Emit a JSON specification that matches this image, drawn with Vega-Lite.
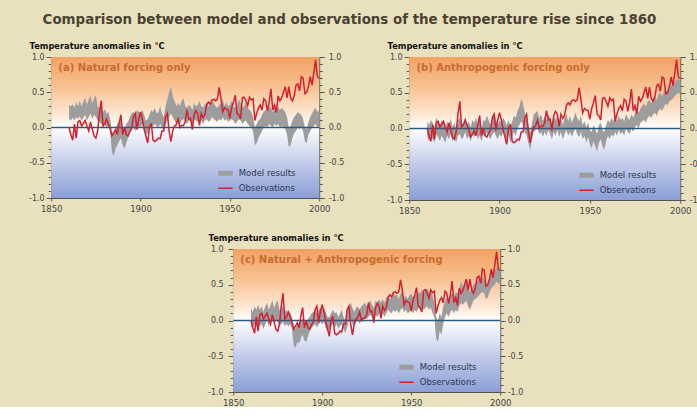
{
  "$schema": "https://vega.github.io/schema/vega-lite/v6.json",
  "background": "#e9e1be",
  "padding": {"left": 28, "top": 13, "right": 0, "bottom": 0},
  "title": {"text": "Comparison between model and observations of the temperature rise since 1860", "font": "DejaVu Sans", "fontSize": 13.4, "fontWeight": "bold", "color": "#4a4232", "anchor": "start", "dx": 14, "offset": 15},
  "config": {
    "view": {"stroke": null},
    "axis": {"labelFont": "DejaVu Sans", "labelFontSize": 8, "labelColor": "#444444", "domainColor": "#555555", "tickColor": "#555555", "grid": false, "domainWidth": 1, "tickWidth": 1}
  },
  "datasets": {
    "temps": [
      {"year":1860,"t":0.00,"alo":0.12,"ahi":0.32,"blo":-0.12,"bhi":0.10,"clo":-0.08,"chi":0.18},
      {"year":1861,"t":-0.10,"alo":0.10,"ahi":0.30,"blo":-0.18,"bhi":0.05,"clo":-0.12,"chi":0.12},
      {"year":1862,"t":-0.18,"alo":0.14,"ahi":0.33,"blo":-0.10,"bhi":0.12,"clo":-0.05,"chi":0.20},
      {"year":1863,"t":0.05,"alo":0.10,"ahi":0.28,"blo":-0.15,"bhi":0.08,"clo":-0.10,"chi":0.15},
      {"year":1864,"t":-0.15,"alo":0.15,"ahi":0.36,"blo":-0.20,"bhi":0.02,"clo":-0.02,"chi":0.22},
      {"year":1865,"t":0.08,"alo":0.12,"ahi":0.30,"blo":-0.08,"bhi":0.15,"clo":-0.08,"chi":0.15},
      {"year":1866,"t":0.10,"alo":0.16,"ahi":0.38,"blo":-0.12,"bhi":0.10,"clo":-0.05,"chi":0.20},
      {"year":1867,"t":0.02,"alo":0.10,"ahi":0.30,"blo":-0.18,"bhi":0.05,"clo":-0.12,"chi":0.12},
      {"year":1868,"t":0.06,"alo":0.14,"ahi":0.36,"blo":-0.10,"bhi":0.12,"clo":-0.05,"chi":0.20},
      {"year":1869,"t":0.10,"alo":0.18,"ahi":0.42,"blo":-0.15,"bhi":0.08,"clo":0.00,"chi":0.25},
      {"year":1870,"t":0.02,"alo":0.10,"ahi":0.32,"blo":-0.20,"bhi":0.00,"clo":-0.08,"chi":0.15},
      {"year":1871,"t":-0.05,"alo":0.15,"ahi":0.40,"blo":-0.10,"bhi":0.10,"clo":-0.03,"chi":0.22},
      {"year":1872,"t":0.08,"alo":0.20,"ahi":0.45,"blo":-0.15,"bhi":0.05,"clo":0.02,"chi":0.28},
      {"year":1873,"t":-0.02,"alo":0.12,"ahi":0.34,"blo":-0.08,"bhi":0.14,"clo":-0.05,"chi":0.18},
      {"year":1874,"t":-0.12,"alo":0.18,"ahi":0.42,"blo":-0.18,"bhi":0.02,"clo":0.00,"chi":0.25},
      {"year":1875,"t":-0.15,"alo":0.15,"ahi":0.46,"blo":-0.12,"bhi":0.08,"clo":-0.02,"chi":0.28},
      {"year":1876,"t":-0.05,"alo":0.10,"ahi":0.30,"blo":-0.20,"bhi":0.00,"clo":-0.08,"chi":0.15},
      {"year":1877,"t":0.20,"alo":0.08,"ahi":0.28,"blo":-0.10,"bhi":0.12,"clo":-0.05,"chi":0.18},
      {"year":1878,"t":0.38,"alo":0.05,"ahi":0.25,"blo":-0.08,"bhi":0.15,"clo":-0.02,"chi":0.20},
      {"year":1879,"t":0.02,"alo":0.02,"ahi":0.22,"blo":-0.15,"bhi":0.05,"clo":-0.08,"chi":0.12},
      {"year":1880,"t":0.05,"alo":0.04,"ahi":0.26,"blo":-0.12,"bhi":0.08,"clo":-0.05,"chi":0.15},
      {"year":1881,"t":0.12,"alo":0.00,"ahi":0.20,"blo":-0.05,"bhi":0.15,"clo":-0.08,"chi":0.10},
      {"year":1882,"t":0.05,"alo":0.03,"ahi":0.22,"blo":-0.15,"bhi":0.05,"clo":-0.05,"chi":0.12},
      {"year":1883,"t":-0.02,"alo":-0.05,"ahi":0.12,"blo":-0.10,"bhi":0.10,"clo":-0.12,"chi":0.05},
      {"year":1884,"t":-0.12,"alo":-0.35,"ahi":-0.05,"blo":-0.18,"bhi":0.02,"clo":-0.35,"chi":-0.08},
      {"year":1885,"t":-0.08,"alo":-0.40,"ahi":-0.10,"blo":-0.08,"bhi":0.12,"clo":-0.38,"chi":-0.12},
      {"year":1886,"t":-0.03,"alo":-0.30,"ahi":0.00,"blo":-0.12,"bhi":0.08,"clo":-0.30,"chi":-0.05},
      {"year":1887,"t":-0.10,"alo":-0.25,"ahi":0.05,"blo":-0.05,"bhi":0.15,"clo":-0.32,"chi":-0.05},
      {"year":1888,"t":0.06,"alo":-0.20,"ahi":0.08,"blo":-0.15,"bhi":0.05,"clo":-0.25,"chi":0.00},
      {"year":1889,"t":0.18,"alo":-0.15,"ahi":0.10,"blo":-0.10,"bhi":0.12,"clo":-0.20,"chi":0.02},
      {"year":1890,"t":-0.10,"alo":-0.25,"ahi":0.02,"blo":-0.18,"bhi":0.00,"clo":-0.28,"chi":-0.02},
      {"year":1891,"t":0.00,"alo":-0.30,"ahi":-0.02,"blo":-0.08,"bhi":0.12,"clo":-0.30,"chi":-0.05},
      {"year":1892,"t":-0.10,"alo":-0.22,"ahi":0.05,"blo":-0.12,"bhi":0.10,"clo":-0.22,"chi":0.02},
      {"year":1893,"t":-0.12,"alo":-0.15,"ahi":0.08,"blo":-0.05,"bhi":0.18,"clo":-0.15,"chi":0.05},
      {"year":1894,"t":-0.06,"alo":-0.05,"ahi":0.15,"blo":-0.10,"bhi":0.12,"clo":-0.10,"chi":0.10},
      {"year":1895,"t":-0.02,"alo":-0.02,"ahi":0.20,"blo":-0.15,"bhi":0.05,"clo":-0.08,"chi":0.12},
      {"year":1896,"t":0.15,"alo":0.00,"ahi":0.22,"blo":-0.08,"bhi":0.15,"clo":-0.05,"chi":0.15},
      {"year":1897,"t":0.20,"alo":-0.05,"ahi":0.18,"blo":-0.05,"bhi":0.22,"clo":-0.10,"chi":0.10},
      {"year":1898,"t":-0.03,"alo":0.00,"ahi":0.25,"blo":-0.10,"bhi":0.12,"clo":-0.05,"chi":0.15},
      {"year":1899,"t":0.12,"alo":0.02,"ahi":0.22,"blo":-0.15,"bhi":0.05,"clo":-0.02,"chi":0.18},
      {"year":1900,"t":0.22,"alo":0.00,"ahi":0.20,"blo":-0.08,"bhi":0.12,"clo":-0.05,"chi":0.15},
      {"year":1901,"t":0.12,"alo":0.05,"ahi":0.25,"blo":-0.12,"bhi":0.08,"clo":-0.02,"chi":0.18},
      {"year":1902,"t":-0.02,"alo":-0.05,"ahi":0.18,"blo":-0.05,"bhi":0.15,"clo":-0.10,"chi":0.12},
      {"year":1903,"t":-0.12,"alo":-0.10,"ahi":0.10,"blo":-0.10,"bhi":0.10,"clo":-0.15,"chi":0.05},
      {"year":1904,"t":-0.22,"alo":-0.08,"ahi":0.12,"blo":-0.15,"bhi":0.05,"clo":-0.12,"chi":0.05},
      {"year":1905,"t":0.00,"alo":-0.02,"ahi":0.18,"blo":-0.08,"bhi":0.12,"clo":-0.08,"chi":0.10},
      {"year":1906,"t":0.06,"alo":0.00,"ahi":0.25,"blo":-0.20,"bhi":0.02,"clo":-0.05,"chi":0.15},
      {"year":1907,"t":-0.18,"alo":0.02,"ahi":0.22,"blo":-0.12,"bhi":0.10,"clo":-0.10,"chi":0.10},
      {"year":1908,"t":-0.20,"alo":0.05,"ahi":0.28,"blo":-0.05,"bhi":0.18,"clo":-0.05,"chi":0.12},
      {"year":1909,"t":-0.18,"alo":0.02,"ahi":0.20,"blo":-0.10,"bhi":0.15,"clo":-0.12,"chi":0.05},
      {"year":1910,"t":-0.15,"alo":0.00,"ahi":0.22,"blo":0.00,"bhi":0.25,"clo":-0.08,"chi":0.10},
      {"year":1911,"t":-0.16,"alo":0.05,"ahi":0.30,"blo":0.05,"bhi":0.30,"clo":-0.05,"chi":0.15},
      {"year":1912,"t":-0.05,"alo":0.00,"ahi":0.20,"blo":0.10,"bhi":0.42,"clo":-0.12,"chi":0.05},
      {"year":1913,"t":-0.05,"alo":-0.05,"ahi":0.15,"blo":0.05,"bhi":0.35,"clo":-0.18,"chi":0.00},
      {"year":1914,"t":0.15,"alo":0.05,"ahi":0.30,"blo":-0.05,"bhi":0.22,"clo":-0.10,"chi":0.10},
      {"year":1915,"t":0.20,"alo":0.10,"ahi":0.40,"blo":-0.10,"bhi":0.15,"clo":0.00,"chi":0.20},
      {"year":1916,"t":-0.05,"alo":0.15,"ahi":0.50,"blo":-0.20,"bhi":0.05,"clo":0.02,"chi":0.25},
      {"year":1917,"t":-0.20,"alo":0.20,"ahi":0.58,"blo":-0.30,"bhi":-0.05,"clo":-0.05,"chi":0.18},
      {"year":1918,"t":-0.05,"alo":0.15,"ahi":0.45,"blo":-0.15,"bhi":0.08,"clo":-0.08,"chi":0.12},
      {"year":1919,"t":0.02,"alo":0.10,"ahi":0.38,"blo":-0.05,"bhi":0.20,"clo":-0.02,"chi":0.18},
      {"year":1920,"t":0.04,"alo":0.05,"ahi":0.30,"blo":-0.02,"bhi":0.22,"clo":0.00,"chi":0.20},
      {"year":1921,"t":0.12,"alo":0.08,"ahi":0.35,"blo":0.00,"bhi":0.25,"clo":-0.05,"chi":0.15},
      {"year":1922,"t":0.00,"alo":0.05,"ahi":0.30,"blo":-0.08,"bhi":0.15,"clo":0.02,"chi":0.20},
      {"year":1923,"t":0.03,"alo":0.10,"ahi":0.38,"blo":-0.05,"bhi":0.20,"clo":0.00,"chi":0.22},
      {"year":1924,"t":0.03,"alo":0.12,"ahi":0.42,"blo":-0.12,"bhi":0.10,"clo":0.05,"chi":0.25},
      {"year":1925,"t":0.08,"alo":0.08,"ahi":0.30,"blo":-0.05,"bhi":0.18,"clo":0.02,"chi":0.20},
      {"year":1926,"t":0.25,"alo":0.05,"ahi":0.28,"blo":-0.10,"bhi":0.12,"clo":0.05,"chi":0.25},
      {"year":1927,"t":0.12,"alo":0.10,"ahi":0.32,"blo":-0.02,"bhi":0.20,"clo":0.08,"chi":0.28},
      {"year":1928,"t":0.13,"alo":0.08,"ahi":0.30,"blo":-0.08,"bhi":0.15,"clo":0.05,"chi":0.22},
      {"year":1929,"t":-0.03,"alo":0.05,"ahi":0.25,"blo":-0.15,"bhi":0.08,"clo":0.00,"chi":0.18},
      {"year":1930,"t":0.18,"alo":0.12,"ahi":0.35,"blo":-0.05,"bhi":0.18,"clo":0.08,"chi":0.28},
      {"year":1931,"t":0.24,"alo":0.10,"ahi":0.30,"blo":-0.10,"bhi":0.12,"clo":0.05,"chi":0.25},
      {"year":1932,"t":0.20,"alo":0.08,"ahi":0.32,"blo":-0.02,"bhi":0.20,"clo":0.10,"chi":0.30},
      {"year":1933,"t":0.03,"alo":0.12,"ahi":0.38,"blo":-0.12,"bhi":0.10,"clo":0.06,"chi":0.25},
      {"year":1934,"t":0.20,"alo":0.10,"ahi":0.30,"blo":-0.05,"bhi":0.15,"clo":0.10,"chi":0.30},
      {"year":1935,"t":0.14,"alo":0.05,"ahi":0.28,"blo":-0.15,"bhi":0.05,"clo":0.05,"chi":0.25},
      {"year":1936,"t":0.18,"alo":0.10,"ahi":0.33,"blo":-0.08,"bhi":0.15,"clo":0.10,"chi":0.32},
      {"year":1937,"t":0.32,"alo":0.12,"ahi":0.35,"blo":-0.02,"bhi":0.20,"clo":0.15,"chi":0.35},
      {"year":1938,"t":0.36,"alo":0.08,"ahi":0.30,"blo":-0.10,"bhi":0.10,"clo":0.12,"chi":0.30},
      {"year":1939,"t":0.33,"alo":0.10,"ahi":0.32,"blo":-0.05,"bhi":0.18,"clo":0.10,"chi":0.32},
      {"year":1940,"t":0.39,"alo":0.15,"ahi":0.38,"blo":-0.12,"bhi":0.08,"clo":0.15,"chi":0.38},
      {"year":1941,"t":0.40,"alo":0.12,"ahi":0.35,"blo":-0.05,"bhi":0.15,"clo":0.12,"chi":0.35},
      {"year":1942,"t":0.38,"alo":0.10,"ahi":0.30,"blo":0.00,"bhi":0.22,"clo":0.15,"chi":0.36},
      {"year":1943,"t":0.40,"alo":0.08,"ahi":0.28,"blo":-0.08,"bhi":0.15,"clo":0.10,"chi":0.30},
      {"year":1944,"t":0.57,"alo":0.12,"ahi":0.32,"blo":-0.12,"bhi":0.10,"clo":0.15,"chi":0.38},
      {"year":1945,"t":0.42,"alo":0.10,"ahi":0.35,"blo":-0.05,"bhi":0.18,"clo":0.18,"chi":0.40},
      {"year":1946,"t":0.22,"alo":0.15,"ahi":0.40,"blo":-0.15,"bhi":0.05,"clo":0.12,"chi":0.32},
      {"year":1947,"t":0.28,"alo":0.10,"ahi":0.30,"blo":-0.10,"bhi":0.10,"clo":0.15,"chi":0.35},
      {"year":1948,"t":0.26,"alo":0.12,"ahi":0.36,"blo":-0.20,"bhi":0.02,"clo":0.10,"chi":0.30},
      {"year":1949,"t":0.25,"alo":0.08,"ahi":0.30,"blo":-0.12,"bhi":0.08,"clo":0.12,"chi":0.35},
      {"year":1950,"t":0.13,"alo":0.10,"ahi":0.32,"blo":-0.22,"bhi":-0.02,"clo":0.15,"chi":0.38},
      {"year":1951,"t":0.28,"alo":0.12,"ahi":0.38,"blo":-0.28,"bhi":-0.05,"clo":0.10,"chi":0.32},
      {"year":1952,"t":0.36,"alo":0.10,"ahi":0.30,"blo":-0.18,"bhi":0.05,"clo":0.15,"chi":0.36},
      {"year":1953,"t":0.46,"alo":0.05,"ahi":0.28,"blo":-0.25,"bhi":0.00,"clo":0.12,"chi":0.35},
      {"year":1954,"t":0.20,"alo":0.08,"ahi":0.32,"blo":-0.32,"bhi":-0.08,"clo":0.18,"chi":0.40},
      {"year":1955,"t":0.18,"alo":0.12,"ahi":0.40,"blo":-0.20,"bhi":0.05,"clo":0.15,"chi":0.38},
      {"year":1956,"t":0.12,"alo":0.10,"ahi":0.35,"blo":-0.15,"bhi":0.08,"clo":0.20,"chi":0.42},
      {"year":1957,"t":0.42,"alo":0.05,"ahi":0.28,"blo":-0.25,"bhi":-0.02,"clo":0.15,"chi":0.38},
      {"year":1958,"t":0.43,"alo":0.08,"ahi":0.30,"blo":-0.30,"bhi":-0.05,"clo":0.18,"chi":0.42},
      {"year":1959,"t":0.38,"alo":0.10,"ahi":0.36,"blo":-0.18,"bhi":0.05,"clo":0.20,"chi":0.45},
      {"year":1960,"t":0.31,"alo":0.05,"ahi":0.28,"blo":-0.10,"bhi":0.12,"clo":0.15,"chi":0.40},
      {"year":1961,"t":0.43,"alo":0.02,"ahi":0.25,"blo":-0.15,"bhi":0.08,"clo":0.18,"chi":0.42},
      {"year":1962,"t":0.39,"alo":0.00,"ahi":0.22,"blo":-0.08,"bhi":0.15,"clo":0.10,"chi":0.35},
      {"year":1963,"t":0.41,"alo":-0.05,"ahi":0.15,"blo":-0.12,"bhi":0.10,"clo":0.05,"chi":0.25},
      {"year":1964,"t":0.10,"alo":-0.25,"ahi":0.00,"blo":-0.05,"bhi":0.15,"clo":-0.25,"chi":0.05},
      {"year":1965,"t":0.20,"alo":-0.22,"ahi":0.05,"blo":-0.10,"bhi":0.10,"clo":-0.30,"chi":0.00},
      {"year":1966,"t":0.28,"alo":-0.15,"ahi":0.10,"blo":-0.02,"bhi":0.18,"clo":-0.15,"chi":0.10},
      {"year":1967,"t":0.32,"alo":-0.10,"ahi":0.12,"blo":-0.08,"bhi":0.12,"clo":-0.20,"chi":0.05},
      {"year":1968,"t":0.25,"alo":-0.05,"ahi":0.18,"blo":-0.05,"bhi":0.15,"clo":-0.05,"chi":0.20},
      {"year":1969,"t":0.41,"alo":0.00,"ahi":0.22,"blo":-0.10,"bhi":0.10,"clo":0.05,"chi":0.28},
      {"year":1970,"t":0.38,"alo":0.02,"ahi":0.25,"blo":0.00,"bhi":0.20,"clo":0.10,"chi":0.32},
      {"year":1971,"t":0.24,"alo":0.00,"ahi":0.25,"blo":-0.05,"bhi":0.15,"clo":0.05,"chi":0.30},
      {"year":1972,"t":0.36,"alo":0.05,"ahi":0.30,"blo":-0.08,"bhi":0.12,"clo":0.12,"chi":0.35},
      {"year":1973,"t":0.55,"alo":0.02,"ahi":0.28,"blo":0.00,"bhi":0.20,"clo":0.15,"chi":0.38},
      {"year":1974,"t":0.25,"alo":0.00,"ahi":0.22,"blo":-0.05,"bhi":0.15,"clo":0.10,"chi":0.32},
      {"year":1975,"t":0.32,"alo":0.05,"ahi":0.28,"blo":0.02,"bhi":0.22,"clo":0.15,"chi":0.40},
      {"year":1976,"t":0.21,"alo":0.02,"ahi":0.25,"blo":0.05,"bhi":0.25,"clo":0.12,"chi":0.38},
      {"year":1977,"t":0.45,"alo":0.05,"ahi":0.30,"blo":0.00,"bhi":0.22,"clo":0.20,"chi":0.45},
      {"year":1978,"t":0.38,"alo":0.00,"ahi":0.25,"blo":0.08,"bhi":0.28,"clo":0.25,"chi":0.55},
      {"year":1979,"t":0.42,"alo":0.02,"ahi":0.28,"blo":0.10,"bhi":0.32,"clo":0.22,"chi":0.48},
      {"year":1980,"t":0.50,"alo":0.00,"ahi":0.25,"blo":0.12,"bhi":0.35,"clo":0.25,"chi":0.50},
      {"year":1981,"t":0.58,"alo":-0.02,"ahi":0.22,"blo":0.08,"bhi":0.30,"clo":0.28,"chi":0.52},
      {"year":1982,"t":0.42,"alo":-0.10,"ahi":0.15,"blo":0.15,"bhi":0.38,"clo":0.20,"chi":0.45},
      {"year":1983,"t":0.58,"alo":-0.28,"ahi":0.00,"blo":0.18,"bhi":0.40,"clo":0.15,"chi":0.40},
      {"year":1984,"t":0.42,"alo":-0.25,"ahi":0.02,"blo":0.15,"bhi":0.35,"clo":0.22,"chi":0.45},
      {"year":1985,"t":0.38,"alo":-0.15,"ahi":0.10,"blo":0.20,"bhi":0.42,"clo":0.28,"chi":0.50},
      {"year":1986,"t":0.45,"alo":-0.08,"ahi":0.15,"blo":0.22,"bhi":0.45,"clo":0.30,"chi":0.52},
      {"year":1987,"t":0.60,"alo":-0.05,"ahi":0.18,"blo":0.18,"bhi":0.40,"clo":0.32,"chi":0.55},
      {"year":1988,"t":0.62,"alo":0.00,"ahi":0.22,"blo":0.25,"bhi":0.48,"clo":0.35,"chi":0.58},
      {"year":1989,"t":0.52,"alo":-0.02,"ahi":0.20,"blo":0.28,"bhi":0.50,"clo":0.38,"chi":0.60},
      {"year":1990,"t":0.72,"alo":0.00,"ahi":0.18,"blo":0.25,"bhi":0.45,"clo":0.40,"chi":0.62},
      {"year":1991,"t":0.70,"alo":-0.05,"ahi":0.12,"blo":0.30,"bhi":0.52,"clo":0.38,"chi":0.58},
      {"year":1992,"t":0.48,"alo":-0.20,"ahi":0.00,"blo":0.35,"bhi":0.55,"clo":0.30,"chi":0.50},
      {"year":1993,"t":0.50,"alo":-0.22,"ahi":-0.02,"blo":0.32,"bhi":0.50,"clo":0.32,"chi":0.52},
      {"year":1994,"t":0.58,"alo":-0.10,"ahi":0.08,"blo":0.38,"bhi":0.58,"clo":0.40,"chi":0.60},
      {"year":1995,"t":0.72,"alo":-0.05,"ahi":0.15,"blo":0.40,"bhi":0.60,"clo":0.45,"chi":0.65},
      {"year":1996,"t":0.60,"alo":0.00,"ahi":0.20,"blo":0.42,"bhi":0.62,"clo":0.48,"chi":0.68},
      {"year":1997,"t":0.78,"alo":0.02,"ahi":0.25,"blo":0.45,"bhi":0.65,"clo":0.50,"chi":0.70},
      {"year":1998,"t":0.96,"alo":0.05,"ahi":0.28,"blo":0.48,"bhi":0.68,"clo":0.55,"chi":0.75},
      {"year":1999,"t":0.72,"alo":0.00,"ahi":0.22,"blo":0.50,"bhi":0.70,"clo":0.52,"chi":0.72},
      {"year":2000,"t":0.70,"alo":0.02,"ahi":0.25,"blo":0.48,"bhi":0.66,"clo":0.50,"chi":0.70}
    ]
  },
  "resolve": {"scale": {"color": "independent"}, "legend": {"color": "independent"}},
  "center": true,
  "spacing": 18,
  "vconcat": [
    {
      "spacing": 42,
      "resolve": {"scale": {"color": "independent"}, "legend": {"color": "independent"}},
      "hconcat": [
        {
          "width": 268, "height": 141,
          "title": {"text": "Temperature anomalies in °C", "anchor": "start", "frame": "bounds", "dx": 1, "font": "DejaVu Sans", "fontSize": 8.3, "fontWeight": "bold", "color": "#111111", "offset": 3},
          "data": {"name": "temps"},
          "resolve": {"axis": {"y": "independent"}},
          "layer": [
            {"data": {"values": [{}]}, "mark": {"type": "rect", "fill": {"gradient": "linear", "x1": 0, "y1": 0, "x2": 0, "y2": 1, "stops": [{"offset": 0, "color": "#f3a161"}, {"offset": 0.2, "color": "#f8c08f"}, {"offset": 0.4, "color": "#fde6d2"}, {"offset": 0.5, "color": "#ffffff"}, {"offset": 0.56, "color": "#f0f2fa"}, {"offset": 0.76, "color": "#c0cae9"}, {"offset": 1, "color": "#8a9ed6"}]}},
             "encoding": {"x": {"datum": 1850, "type": "quantitative", "scale": {"domain": [1850, 2000], "nice": false}, "axis": {"title": null, "values": [1850, 1900, 1950, 2000], "format": "d", "tickSize": 3, "labelPadding": 3, "labelFlush": false, "labelFontSize": 8.5}}, "x2": {"datum": 2000}, "y": {"datum": 1, "type": "quantitative", "scale": {"domain": [-1, 1], "nice": false}, "axis": null}, "y2": {"datum": -1}}},
            {"mark": {"type": "area"},
             "encoding": {"x": {"field": "year", "type": "quantitative", "scale": {"domain": [1850, 2000], "nice": false}, "axis": {"title": null}}, "y": {"field": "alo", "type": "quantitative", "scale": {"domain": [-1, 1], "nice": false}, "axis": {"orient": "right", "title": null, "values": [-1,-0.9,-0.8,-0.7,-0.6,-0.5,-0.4,-0.3,-0.2,-0.1,0,0.1,0.2,0.3,0.4,0.5,0.6,0.7,0.8,0.9,1], "labelExpr": "abs(datum.value*2 - round(datum.value*2)) < 0.001 ? (datum.value < 0 ? '-' : '') + format(abs(datum.value), '.1f') : ''", "tickSize": {"condition": {"test": "abs(datum.value*2 - round(datum.value*2)) < 0.001", "value": 5}, "value": 3}, "labelPadding": 4, "labelFlush": false, "labelOverlap": false}}, "y2": {"field": "ahi"},
               "color": {"datum": "Model results", "type": "nominal", "scale": {"domain": ["Model results", "Observations"], "range": ["#9d9d9d", "#d4202e"]}, "legend": {"orient": "bottom-right", "offset": 5, "padding": 0, "title": " ", "titleOrient": "right", "titlePadding": 19, "symbolType": "M-1.6,0H1.6", "symbolSize": 81, "labelFont": "DejaVu Sans", "labelFontSize": 8.5, "labelColor": "#2f3550", "rowPadding": -4, "labelOffset": 9, "encode": {"symbols": {"update": {"strokeWidth": {"signal": "datum.value === 'Model results' ? 5 : 1.5"}, "stroke": {"signal": "datum.value === 'Model results' ? '#9d9d9d' : '#d4202e'"}}}}}}}},
            {"data": {"values": [{}]}, "mark": {"type": "rule", "color": "#2a5a80", "strokeWidth": 1.6}, "encoding": {"y": {"datum": 0, "type": "quantitative", "scale": {"domain": [-1, 1], "nice": false}, "axis": null}}},
            {"mark": {"type": "line", "strokeWidth": 1.5},
             "encoding": {"x": {"field": "year", "type": "quantitative", "scale": {"domain": [1850, 2000], "nice": false}, "axis": {"title": null}}, "y": {"field": "t", "type": "quantitative", "scale": {"domain": [-1, 1], "nice": false}, "axis": {"orient": "left", "title": null, "values": [-1,-0.9,-0.8,-0.7,-0.6,-0.5,-0.4,-0.3,-0.2,-0.1,0,0.1,0.2,0.3,0.4,0.5,0.6,0.7,0.8,0.9,1], "labelExpr": "abs(datum.value*2 - round(datum.value*2)) < 0.001 ? (datum.value < 0 ? '-' : '') + format(abs(datum.value), '.1f') : ''", "tickSize": {"condition": {"test": "abs(datum.value*2 - round(datum.value*2)) < 0.001", "value": 5}, "value": 3}, "labelPadding": 2, "labelFlush": false, "labelOverlap": false}},
               "color": {"datum": "Observations", "type": "nominal", "scale": {"domain": ["Model results", "Observations"], "range": ["#9d9d9d", "#d4202e"]}}}},
            {"data": {"values": [{}]}, "mark": {"type": "text", "text": "(a) Natural forcing only", "align": "left", "baseline": "middle", "font": "DejaVu Sans", "fontSize": 10, "fontWeight": "bold", "color": "#c86b2f"},
             "encoding": {"x": {"datum": 1854, "type": "quantitative", "scale": {"domain": [1850, 2000], "nice": false}}, "y": {"datum": 0.85, "type": "quantitative", "scale": {"domain": [-1, 1], "nice": false}, "axis": null}}}
          ]
        },
        {
          "width": 271, "height": 143,
          "title": {"text": "Temperature anomalies in °C", "anchor": "start", "frame": "bounds", "dx": 1, "font": "DejaVu Sans", "fontSize": 8.3, "fontWeight": "bold", "color": "#111111", "offset": 3},
          "data": {"name": "temps"},
          "resolve": {"axis": {"y": "independent"}},
          "layer": [
            {"data": {"values": [{}]}, "mark": {"type": "rect", "fill": {"gradient": "linear", "x1": 0, "y1": 0, "x2": 0, "y2": 1, "stops": [{"offset": 0, "color": "#f3a161"}, {"offset": 0.2, "color": "#f8c08f"}, {"offset": 0.4, "color": "#fde6d2"}, {"offset": 0.5, "color": "#ffffff"}, {"offset": 0.56, "color": "#f0f2fa"}, {"offset": 0.76, "color": "#c0cae9"}, {"offset": 1, "color": "#8a9ed6"}]}},
             "encoding": {"x": {"datum": 1850, "type": "quantitative", "scale": {"domain": [1850, 2000], "nice": false}, "axis": {"title": null, "values": [1850, 1900, 1950, 2000], "format": "d", "tickSize": 3, "labelPadding": 3, "labelFlush": false, "labelFontSize": 8.5}}, "x2": {"datum": 2000}, "y": {"datum": 1, "type": "quantitative", "scale": {"domain": [-1, 1], "nice": false}, "axis": null}, "y2": {"datum": -1}}},
            {"mark": {"type": "area"},
             "encoding": {"x": {"field": "year", "type": "quantitative", "scale": {"domain": [1850, 2000], "nice": false}, "axis": {"title": null}}, "y": {"field": "blo", "type": "quantitative", "scale": {"domain": [-1, 1], "nice": false}, "axis": {"orient": "right", "title": null, "values": [-1,-0.9,-0.8,-0.7,-0.6,-0.5,-0.4,-0.3,-0.2,-0.1,0,0.1,0.2,0.3,0.4,0.5,0.6,0.7,0.8,0.9,1], "labelExpr": "abs(datum.value*2 - round(datum.value*2)) < 0.001 ? (datum.value < 0 ? '-' : '') + format(abs(datum.value), '.1f') : ''", "tickSize": {"condition": {"test": "abs(datum.value*2 - round(datum.value*2)) < 0.001", "value": 5}, "value": 3}, "labelPadding": 4, "labelFlush": false, "labelOverlap": false}}, "y2": {"field": "bhi"},
               "color": {"datum": "Model results", "type": "nominal", "scale": {"domain": ["Model results", "Observations"], "range": ["#9d9d9d", "#d4202e"]}, "legend": {"orient": "bottom-right", "offset": 5, "padding": 0, "title": " ", "titleOrient": "right", "titlePadding": 19, "symbolType": "M-1.6,0H1.6", "symbolSize": 81, "labelFont": "DejaVu Sans", "labelFontSize": 8.5, "labelColor": "#2f3550", "rowPadding": -4, "labelOffset": 9, "encode": {"symbols": {"update": {"strokeWidth": {"signal": "datum.value === 'Model results' ? 5 : 1.5"}, "stroke": {"signal": "datum.value === 'Model results' ? '#9d9d9d' : '#d4202e'"}}}}}}}},
            {"data": {"values": [{}]}, "mark": {"type": "rule", "color": "#2a5a80", "strokeWidth": 1.6}, "encoding": {"y": {"datum": 0, "type": "quantitative", "scale": {"domain": [-1, 1], "nice": false}, "axis": null}}},
            {"mark": {"type": "line", "strokeWidth": 1.5},
             "encoding": {"x": {"field": "year", "type": "quantitative", "scale": {"domain": [1850, 2000], "nice": false}, "axis": {"title": null}}, "y": {"field": "t", "type": "quantitative", "scale": {"domain": [-1, 1], "nice": false}, "axis": {"orient": "left", "title": null, "values": [-1,-0.9,-0.8,-0.7,-0.6,-0.5,-0.4,-0.3,-0.2,-0.1,0,0.1,0.2,0.3,0.4,0.5,0.6,0.7,0.8,0.9,1], "labelExpr": "abs(datum.value*2 - round(datum.value*2)) < 0.001 ? (datum.value < 0 ? '-' : '') + format(abs(datum.value), '.1f') : ''", "tickSize": {"condition": {"test": "abs(datum.value*2 - round(datum.value*2)) < 0.001", "value": 5}, "value": 3}, "labelPadding": 2, "labelFlush": false, "labelOverlap": false}},
               "color": {"datum": "Observations", "type": "nominal", "scale": {"domain": ["Model results", "Observations"], "range": ["#9d9d9d", "#d4202e"]}}}},
            {"data": {"values": [{}]}, "mark": {"type": "text", "text": "(b) Anthropogenic forcing only", "align": "left", "baseline": "middle", "font": "DejaVu Sans", "fontSize": 10, "fontWeight": "bold", "color": "#c86b2f"},
             "encoding": {"x": {"datum": 1854, "type": "quantitative", "scale": {"domain": [1850, 2000], "nice": false}}, "y": {"datum": 0.85, "type": "quantitative", "scale": {"domain": [-1, 1], "nice": false}, "axis": null}}}
          ]
        }
      ]
    },
    {
      "width": 267, "height": 143,
      "title": {"text": "Temperature anomalies in °C", "anchor": "start", "frame": "bounds", "dx": 1, "font": "DejaVu Sans", "fontSize": 8.3, "fontWeight": "bold", "color": "#111111", "offset": 3},
      "data": {"name": "temps"},
      "resolve": {"axis": {"y": "independent"}},
      "layer": [
        {"data": {"values": [{}]}, "mark": {"type": "rect", "fill": {"gradient": "linear", "x1": 0, "y1": 0, "x2": 0, "y2": 1, "stops": [{"offset": 0, "color": "#f3a161"}, {"offset": 0.2, "color": "#f8c08f"}, {"offset": 0.4, "color": "#fde6d2"}, {"offset": 0.5, "color": "#ffffff"}, {"offset": 0.56, "color": "#f0f2fa"}, {"offset": 0.76, "color": "#c0cae9"}, {"offset": 1, "color": "#8a9ed6"}]}},
         "encoding": {"x": {"datum": 1850, "type": "quantitative", "scale": {"domain": [1850, 2000], "nice": false}, "axis": {"title": null, "values": [1850, 1900, 1950, 2000], "format": "d", "tickSize": 3, "labelPadding": 3, "labelFlush": false, "labelFontSize": 8.5}}, "x2": {"datum": 2000}, "y": {"datum": 1, "type": "quantitative", "scale": {"domain": [-1, 1], "nice": false}, "axis": null}, "y2": {"datum": -1}}},
        {"mark": {"type": "area"},
         "encoding": {"x": {"field": "year", "type": "quantitative", "scale": {"domain": [1850, 2000], "nice": false}, "axis": {"title": null}}, "y": {"field": "clo", "type": "quantitative", "scale": {"domain": [-1, 1], "nice": false}, "axis": {"orient": "right", "title": null, "values": [-1,-0.9,-0.8,-0.7,-0.6,-0.5,-0.4,-0.3,-0.2,-0.1,0,0.1,0.2,0.3,0.4,0.5,0.6,0.7,0.8,0.9,1], "labelExpr": "abs(datum.value*2 - round(datum.value*2)) < 0.001 ? (datum.value < 0 ? '-' : '') + format(abs(datum.value), '.1f') : ''", "tickSize": {"condition": {"test": "abs(datum.value*2 - round(datum.value*2)) < 0.001", "value": 5}, "value": 3}, "labelPadding": 2, "labelFlush": false, "labelOverlap": false}}, "y2": {"field": "chi"},
           "color": {"datum": "Model results", "type": "nominal", "scale": {"domain": ["Model results", "Observations"], "range": ["#9d9d9d", "#d4202e"]}, "legend": {"orient": "bottom-right", "offset": 5, "padding": 0, "title": " ", "titleOrient": "right", "titlePadding": 19, "symbolType": "M-1.6,0H1.6", "symbolSize": 81, "labelFont": "DejaVu Sans", "labelFontSize": 8.5, "labelColor": "#2f3550", "rowPadding": -4, "labelOffset": 9, "encode": {"symbols": {"update": {"strokeWidth": {"signal": "datum.value === 'Model results' ? 5 : 1.5"}, "stroke": {"signal": "datum.value === 'Model results' ? '#9d9d9d' : '#d4202e'"}}}}}}}},
        {"data": {"values": [{}]}, "mark": {"type": "rule", "color": "#2a5a80", "strokeWidth": 1.6}, "encoding": {"y": {"datum": 0, "type": "quantitative", "scale": {"domain": [-1, 1], "nice": false}, "axis": null}}},
        {"mark": {"type": "line", "strokeWidth": 1.5},
         "encoding": {"x": {"field": "year", "type": "quantitative", "scale": {"domain": [1850, 2000], "nice": false}, "axis": {"title": null}}, "y": {"field": "t", "type": "quantitative", "scale": {"domain": [-1, 1], "nice": false}, "axis": {"orient": "left", "title": null, "values": [-1,-0.9,-0.8,-0.7,-0.6,-0.5,-0.4,-0.3,-0.2,-0.1,0,0.1,0.2,0.3,0.4,0.5,0.6,0.7,0.8,0.9,1], "labelExpr": "abs(datum.value*2 - round(datum.value*2)) < 0.001 ? (datum.value < 0 ? '-' : '') + format(abs(datum.value), '.1f') : ''", "tickSize": {"condition": {"test": "abs(datum.value*2 - round(datum.value*2)) < 0.001", "value": 5}, "value": 3}, "labelPadding": 5, "labelFlush": false, "labelOverlap": false}},
           "color": {"datum": "Observations", "type": "nominal", "scale": {"domain": ["Model results", "Observations"], "range": ["#9d9d9d", "#d4202e"]}}}},
        {"data": {"values": [{}]}, "mark": {"type": "text", "text": "(c) Natural + Anthropogenic forcing", "align": "left", "baseline": "middle", "font": "DejaVu Sans", "fontSize": 10, "fontWeight": "bold", "color": "#c86b2f"},
         "encoding": {"x": {"datum": 1854, "type": "quantitative", "scale": {"domain": [1850, 2000], "nice": false}}, "y": {"datum": 0.85, "type": "quantitative", "scale": {"domain": [-1, 1], "nice": false}, "axis": null}}}
      ]
    }
  ]
}
